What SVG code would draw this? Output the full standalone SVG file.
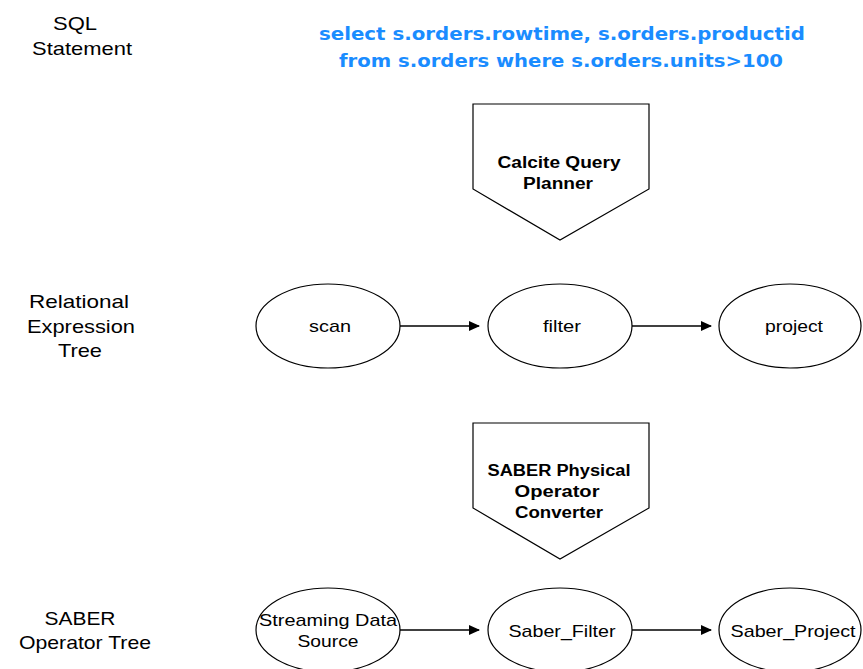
<svg xmlns="http://www.w3.org/2000/svg" width="863" height="669" viewBox="0 0 863 669">
  <style>
    .lbl { font-family: "Liberation Sans", Arial, sans-serif; font-size: 19px; fill: #000; text-anchor: middle; }
    .node { fill: #fff; stroke: #000; stroke-width: 1.2; }
    .ntxt { font-family: "Liberation Sans", Arial, sans-serif; font-size: 17px; fill: #000; text-anchor: middle; }
    .btxt { font-family: "Liberation Sans", Arial, sans-serif; font-size: 16px; font-weight: bold; fill: #000; text-anchor: middle; }
    .sql { font-family: "DejaVu Sans", Verdana, sans-serif; font-size: 18px; font-weight: bold; fill: #1a8cff; text-anchor: middle; }
    .edge { stroke: #000; stroke-width: 1.5; fill: none; marker-end: url(#arrow); }
  </style>
  <defs>
    <marker id="arrow" markerWidth="11" markerHeight="10" refX="10" refY="5" orient="auto" markerUnits="userSpaceOnUse">
      <path d="M0,0 L11,5 L0,10 Z" fill="#000"/>
    </marker>
  </defs>
  <rect width="863" height="669" fill="#fff"/>

  <!-- row labels -->
  <g id="row-labels">
    <text class="lbl" x="75" y="30" textLength="44" lengthAdjust="spacingAndGlyphs">SQL</text>
    <text class="lbl" x="82" y="55" textLength="100" lengthAdjust="spacingAndGlyphs">Statement</text>
    <text class="lbl" x="79" y="308" textLength="100" lengthAdjust="spacingAndGlyphs">Relational</text>
    <text class="lbl" x="81" y="333" textLength="108" lengthAdjust="spacingAndGlyphs">Expression</text>
    <text class="lbl" x="80" y="357" textLength="44" lengthAdjust="spacingAndGlyphs">Tree</text>
    <text class="lbl" x="80" y="625" textLength="71" lengthAdjust="spacingAndGlyphs">SABER</text>
    <text class="lbl" x="85" y="649" textLength="132" lengthAdjust="spacingAndGlyphs">Operator Tree</text>
  </g>

  <!-- query text -->
  <g id="sql-query">
    <text class="sql" x="562" y="40" textLength="486" lengthAdjust="spacingAndGlyphs">select s.orders.rowtime, s.orders.productid</text>
    <text class="sql" x="561" y="67" textLength="444" lengthAdjust="spacingAndGlyphs">from s.orders where s.orders.units&gt;100</text>
  </g>

  <!-- transformation stages -->
  <g id="calcite-planner">
    <path class="node" d="M473,104 L649,104 L649,189 L560,240 L473,189 Z"/>
    <text class="btxt" x="559" y="168" textLength="123" lengthAdjust="spacingAndGlyphs">Calcite Query</text>
    <text class="btxt" x="558" y="189" textLength="70" lengthAdjust="spacingAndGlyphs">Planner</text>
  </g>
  <g id="saber-converter">
    <path class="node" d="M473,423 L649,423 L649,508 L560,559 L473,508 Z"/>
    <text class="btxt" x="559" y="476" textLength="143" lengthAdjust="spacingAndGlyphs">SABER Physical</text>
    <text class="btxt" x="557" y="497" textLength="85" lengthAdjust="spacingAndGlyphs">Operator</text>
    <text class="btxt" x="559" y="518" textLength="88" lengthAdjust="spacingAndGlyphs">Converter</text>
  </g>

  <!-- relational expression tree -->
  <g id="scan">
    <ellipse class="node" cx="328" cy="326" rx="72" ry="42"/>
    <text class="ntxt" x="330" y="332" textLength="42" lengthAdjust="spacingAndGlyphs">scan</text>
  </g>
  <g id="filter">
    <ellipse class="node" cx="560" cy="326" rx="72" ry="42"/>
    <text class="ntxt" x="562" y="332" textLength="38" lengthAdjust="spacingAndGlyphs">filter</text>
  </g>
  <g id="project">
    <ellipse class="node" cx="790" cy="326" rx="71" ry="42"/>
    <text class="ntxt" x="794" y="332" textLength="58" lengthAdjust="spacingAndGlyphs">project</text>
  </g>

  <!-- saber operator tree -->
  <g id="streaming-source">
    <ellipse class="node" cx="328" cy="630" rx="72" ry="42"/>
    <text class="ntxt" x="328" y="626" textLength="138" lengthAdjust="spacingAndGlyphs">Streaming Data</text>
    <text class="ntxt" x="328" y="647" textLength="61" lengthAdjust="spacingAndGlyphs">Source</text>
  </g>
  <g id="saber-filter">
    <ellipse class="node" cx="560" cy="630" rx="72" ry="42"/>
    <text class="ntxt" x="562" y="637" textLength="107" lengthAdjust="spacingAndGlyphs">Saber_Filter</text>
  </g>
  <g id="saber-project">
    <ellipse class="node" cx="790" cy="630" rx="71" ry="42"/>
    <text class="ntxt" x="793" y="637" textLength="125" lengthAdjust="spacingAndGlyphs">Saber_Project</text>
  </g>

  <!-- connectors -->
  <g id="connectors">
    <line class="edge" x1="400" y1="326" x2="479" y2="326"/>
    <line class="edge" x1="632" y1="326" x2="711" y2="326"/>
    <line class="edge" x1="400" y1="630" x2="479" y2="630"/>
    <line class="edge" x1="632" y1="630" x2="711" y2="630"/>
  </g>
</svg>
